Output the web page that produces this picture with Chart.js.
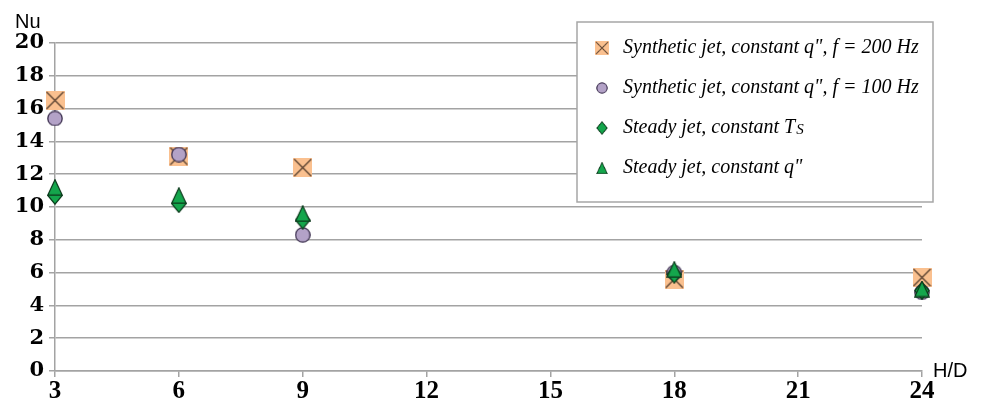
<!DOCTYPE html>
<html>
<head>
<meta charset="utf-8">
<script src="https://cdn.jsdelivr.net/npm/chart.js@4/dist/chart.umd.min.js"></script>
<style>
  body { margin: 0; background: #fff; }
  #wrap { width: 981px; height: 408px; }
</style>
</head>
<body>
<div id="wrap"><canvas id="charts" width="981" height="408"></canvas></div>
<script>
// H/D positions and Nu values
const hd = [3, 6, 9, 18, 24];
const synth200 = [16.5, 13.1, 12.4, 5.6, 5.7];
const synth100 = [15.4, 13.2, 8.3, 6.0, 4.8];
const steadyTs = [10.7, 10.2, 9.2, 5.9, 4.9];
const steadyQ = [11.2, 10.7, 9.6, 6.2, 5.0];

const seriesNames = [
  'Synthetic jet, constant q", f = 200 Hz',
  'Synthetic jet, constant q", f = 100 Hz',
  'Steady jet, constant Ts',
  'Steady jet, constant q"'
];
const xTicks = [3, 6, 9, 12, 15, 18, 21, 24];
const yTicks = [0, 2, 4, 6, 8, 10, 12, 14, 16, 18, 20];

const gridGray = '#a3a3a3';
const green = '#14a64c';

// little canvases used as point styles (excel-like markers)
function markerCanvas(w, h, paint) {
  const c = document.createElement('canvas');
  c.width = w; c.height = h;
  paint(c.getContext('2d'), w, h);
  return c;
}

const xSquare = markerCanvas(19, 19, (g, w, h) => {
  g.fillStyle = '#fac08f';
  g.fillRect(0, 0, w, h);
  g.strokeStyle = '#5e4432';
  g.lineWidth = 1.4;
  g.beginPath();
  g.moveTo(1, 1); g.lineTo(w - 1, h - 1);
  g.moveTo(w - 1, 1); g.lineTo(1, h - 1);
  g.stroke();
});

const circle = markerCanvas(16, 16, (g, w, h) => {
  g.fillStyle = '#b3a2c7';
  g.strokeStyle = '#3d3150';
  g.lineWidth = 1.3;
  g.beginPath();
  g.arc(w / 2, h / 2, w / 2 - 0.8, 0, Math.PI * 2);
  g.fill(); g.stroke();
});

const diamond = markerCanvas(16, 19, (g, w, h) => {
  g.fillStyle = green;
  g.strokeStyle = '#0c3a1c';
  g.lineWidth = 1.2;
  g.beginPath();
  g.moveTo(w / 2, 0.8); g.lineTo(w - 0.8, h / 2);
  g.lineTo(w / 2, h - 0.8); g.lineTo(0.8, h / 2);
  g.closePath();
  g.fill(); g.stroke();
});

const triangle = markerCanvas(16, 17, (g, w, h) => {
  g.fillStyle = green;
  g.strokeStyle = '#0c3a1c';
  g.lineWidth = 1.2;
  g.beginPath();
  g.moveTo(w / 2, 0.8); g.lineTo(w - 0.8, h - 0.8); g.lineTo(0.8, h - 0.8);
  g.closePath();
  g.fill(); g.stroke();
});

const markers = [xSquare, circle, diamond, triangle];

function pts(ys) {
  return hd.map((x, i) => ({x: x, y: ys[i]}));
}

// boxed legend + axis names drawn on top
const boxLegend = {
  id: 'boxLegend',
  afterDraw(chart) {
    const ctx = chart.ctx;
    const area = chart.chartArea;
    ctx.save();

    ctx.fillStyle = '#000';
    ctx.font = '20px "Liberation Sans"';
    ctx.textBaseline = 'middle';
    ctx.textAlign = 'left';
    ctx.fillText('Nu', 15, 22);
    ctx.fillText('H/D', area.right + 11, area.bottom);

    ctx.fillStyle = '#fff';
    ctx.fillRect(577, 22, 356, 180);
    ctx.strokeStyle = '#a6a6a6';
    ctx.lineWidth = 1.5;
    ctx.strokeRect(577, 22, 356, 180);

    seriesNames.forEach((name, i) => {
      const y = 48 + i * 40;
      const m = markers[i];
      const s = 0.72;
      ctx.drawImage(m, 602 - m.width * s / 2, y - m.height * s / 2, m.width * s, m.height * s);

      ctx.fillStyle = '#000';
      ctx.font = 'italic 20px "Liberation Serif"';
      if (name.endsWith('Ts')) {
        const head = name.slice(0, -1);
        ctx.fillText(head, 623, y);
        const w = ctx.measureText(head).width;
        ctx.font = 'italic 15px "Liberation Serif"';
        ctx.fillText('S', 623 + w + 1, y + 2);
      } else {
        ctx.fillText(name, 623, y);
      }
    });
    ctx.restore();
  }
};

let ctx = document.getElementById('charts').getContext('2d');
window.chart = new Chart(ctx, {
  type: 'scatter',
  data: {
    datasets: [
      { label: seriesNames[0], data: pts(synth200), pointStyle: xSquare, order: 3, clip: false },
      { label: seriesNames[1], data: pts(synth100), pointStyle: circle, order: 2, clip: false },
      { label: seriesNames[2], data: pts(steadyTs), pointStyle: diamond, order: 1, clip: false },
      { label: seriesNames[3], data: pts(steadyQ), pointStyle: triangle, order: 0, clip: false }
    ]
  },
  options: {
    responsive: false,
    animation: false,
    layout: { padding: { top: 43, right: 59, bottom: 0, left: 0 } },
    plugins: {
      legend: { display: false },
      tooltip: { enabled: false }
    },
    scales: {
      x: {
        type: 'linear',
        min: 3,
        max: 24,
        afterBuildTicks: (scale) => { scale.ticks = xTicks.map(v => ({value: v})); },
        afterFit: (scale) => { scale.height = 37; },
        grid: { drawOnChartArea: false, drawTicks: true, tickLength: 6, color: gridGray, lineWidth: 1.5 },
        border: { color: gridGray, width: 1.5 },
        ticks: {
          color: '#000',
          padding: 0,
          maxRotation: 0,
          font: { family: '"Liberation Serif"', size: 25, weight: 'bold' }
        }
      },
      y: {
        min: 0,
        max: 20,
        afterBuildTicks: (scale) => { scale.ticks = yTicks.map(v => ({value: v})); },
        afterFit: (scale) => { scale.width = 55; },
        grid: { drawTicks: true, tickLength: 6, color: gridGray, lineWidth: 1.5 },
        border: { color: gridGray, width: 1.5 },
        ticks: {
          color: '#000',
          padding: 5,
          font: { family: '"DejaVu Serif"', size: 21, weight: 'bold' }
        }
      }
    }
  },
  plugins: [boxLegend]
});
</script>
</body>
</html>
